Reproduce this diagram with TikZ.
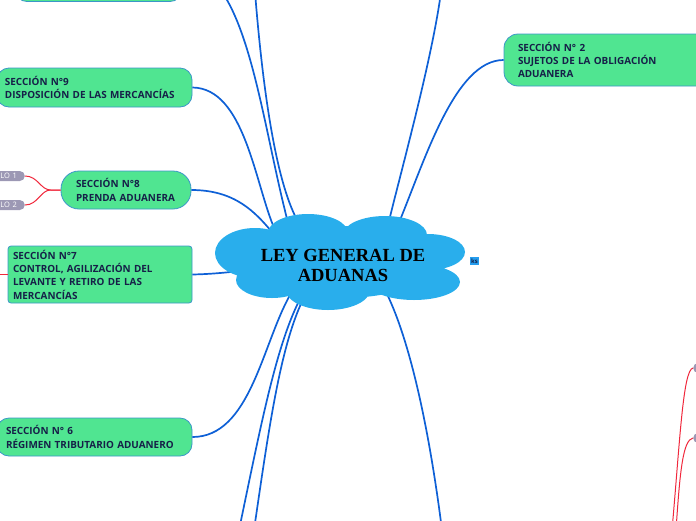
\documentclass[tikz,border=0pt]{standalone}
\usepackage{fontspec}
\setmainfont{Open Sans}
\newfontfamily\titulofont{Liberation Serif}
\usepackage{xcolor}
\usetikzlibrary{calc}

\definecolor{verde}{RGB}{80,229,145}
\definecolor{borde}{RGB}{60,150,200}
\definecolor{tinta}{RGB}{22,32,72}
\definecolor{azul}{RGB}{14,96,214}
\definecolor{cielo}{RGB}{41,174,236}
\definecolor{rojolinea}{RGB}{240,40,60}
\definecolor{gris}{RGB}{156,152,180}

\begin{document}
\begin{tikzpicture}[x=1pt, y=1pt,
    seccion/.style={draw=borde, fill=verde, line width=0.8pt, text=tinta,
        font=\bfseries\fontsize{9.9}{13.3}\selectfont, align=left, inner ysep=0pt},
    rama/.style={draw=azul, line width=1.7pt},
    rojo/.style={draw=rojolinea, line width=1pt},
    etiqueta/.style={fill=gris, rounded corners=5pt, minimum height=10pt,
        inner ysep=0pt, text=white, font=\fontsize{7.5}{8}\selectfont}]
\useasboundingbox (0,0) rectangle (696,-520);

% nube central
\def\nube{(308,-233) ellipse (40 and 19) (385,-235) ellipse (42 and 19)
    (255,-253) ellipse (40 and 25) (428,-252) ellipse (37 and 18)
    (272,-280) ellipse (36 and 18) (328,-290) ellipse (42 and 20)
    (414,-282) ellipse (46 and 18) (342,-262) ellipse (95 and 36)}
\coordinate (ley) at (343,-265);

% secciones
\node[seccion, rounded corners=12pt, minimum width=167pt, minimum height=40pt] (sec10) at (98.5,18.5) {};
\node[seccion, rounded corners=12pt, minimum height=39pt, text width=179pt, inner xsep=8pt] (sec9) at (94.5,-87.5)
    {SECCIÓN N°9\\DISPOSICIÓN DE LAS MERCANCÍAS};
\node[seccion, rounded corners=18pt, minimum height=38pt, text width=100pt, inner xsep=15pt] (sec8) at (126,-190)
    {SECCIÓN N°8\\PRENDA ADUANERA};
\node[seccion, rounded corners=3pt, minimum height=57pt, text width=174pt, inner xsep=5pt] (sec7) at (100,-274.5)
    {SECCIÓN N°7\\CONTROL, AGILIZACIÓN DEL\\LEVANTE Y RETIRO DE LAS\\MERCANCÍAS};
\node[seccion, rounded corners=12pt, minimum height=38pt, text width=177pt, inner xsep=9pt] (sec6) at (94.5,-437)
    {SECCIÓN N° 6\\RÉGIMEN TRIBUTARIO ADUANERO};
\node[seccion, rounded corners=14pt, minimum height=52pt, text width=182pt, inner xsep=14pt] (sec2) at (609,-60)
    {SECCIÓN N° 2\\SUJETOS DE LA OBLIGACIÓN\\ADUANERA};

% etiquetas
\node[etiqueta, anchor=east, text width=32pt, align=right, inner xsep=8pt] (lo1) at (25,-176) {LO 1};
\node[etiqueta, anchor=east, text width=32pt, align=right, inner xsep=8pt] (lo2) at (25,-205) {LO 2};
\node[etiqueta, anchor=west, minimum width=40pt] (der1) at (693,-368) {};
\node[etiqueta, anchor=west, minimum width=40pt] (der2) at (693,-438) {};

% extremos fuera del cuadro
\coordinate (arrA) at (222,8);
\coordinate (arrB) at (255,8);
\coordinate (arrE) at (441,8);
\coordinate (abaH) at (239,-530);
\coordinate (abaI) at (254,-530);
\coordinate (abaJ) at (442,-530);
\coordinate (izq7) at (-15,-274.5);
\coordinate (abaR1) at (672,-530);
\coordinate (abaR2) at (676,-530);

% ramas
\draw[rama] (arrA) .. controls (255,-40) and (268,-150) .. ($(ley)+(-53,35)$);
\draw[rama] (arrB) .. controls (262,-80) and (275,-185) .. ($(ley)+(-43,40)$);
\draw[rama] (sec9.east) .. controls (245,-88) and (255,-185) .. ($(ley)+(-68,35)$);
\draw[rama] (sec8.east) .. controls (235,-190) and (255,-212) .. ($(ley)+(-71,33)$);
\draw[rama] (arrE) .. controls (432,-60) and (400,-175) .. ($(ley)+(45,40)$);
\draw[rama] (sec2.west) .. controls (455,-60) and (425,-160) .. ($(ley)+(55,40)$);
\draw[rama] (sec7.east) .. controls (215,-274) and (230,-272) .. ($(ley)+(-93,-5)$);
\draw[rama] (sec6.east) .. controls (250,-437) and (262,-345) .. ($(ley)+(-53,-30)$);
\draw[rama] (abaH) .. controls (262,-420) and (278,-335) .. ($(ley)+(-38,-25)$);
\draw[rama] (abaI) .. controls (270,-420) and (282,-335) .. ($(ley)+(-35,-25)$);
\draw[rama] (abaJ) .. controls (428,-420) and (408,-335) .. ($(ley)+(42,-25)$);

% ramas rojas
\draw[rojo] (sec8.west) -- ++(-10,0) .. controls +(-10,0) and (38,-176) .. (lo1.east);
\draw[rojo] (sec8.west) -- ++(-10,0) .. controls +(-10,0) and (38,-205) .. (lo2.east);
\draw[rojo] (sec7.west) -- (izq7);
\draw[rojo] (abaR1) .. controls (680,-440) and (683,-370) .. (der1.west);
\draw[rojo] (abaR2) .. controls (680,-470) and (683,-440) .. (der2.west);

\fill[cielo] \nube;
\node[font=\titulofont\bfseries\fontsize{18.5}{20}\selectfont, align=center, text=black] (titulo) at (ley) {LEY GENERAL DE\\ADUANAS};
\node[fill=cielo!90!blue, text=tinta, font=\bfseries\fontsize{6}{6}\selectfont, inner sep=1.2pt] (ks) at (474.5,-261) {ks};
\end{tikzpicture}
\end{document}
